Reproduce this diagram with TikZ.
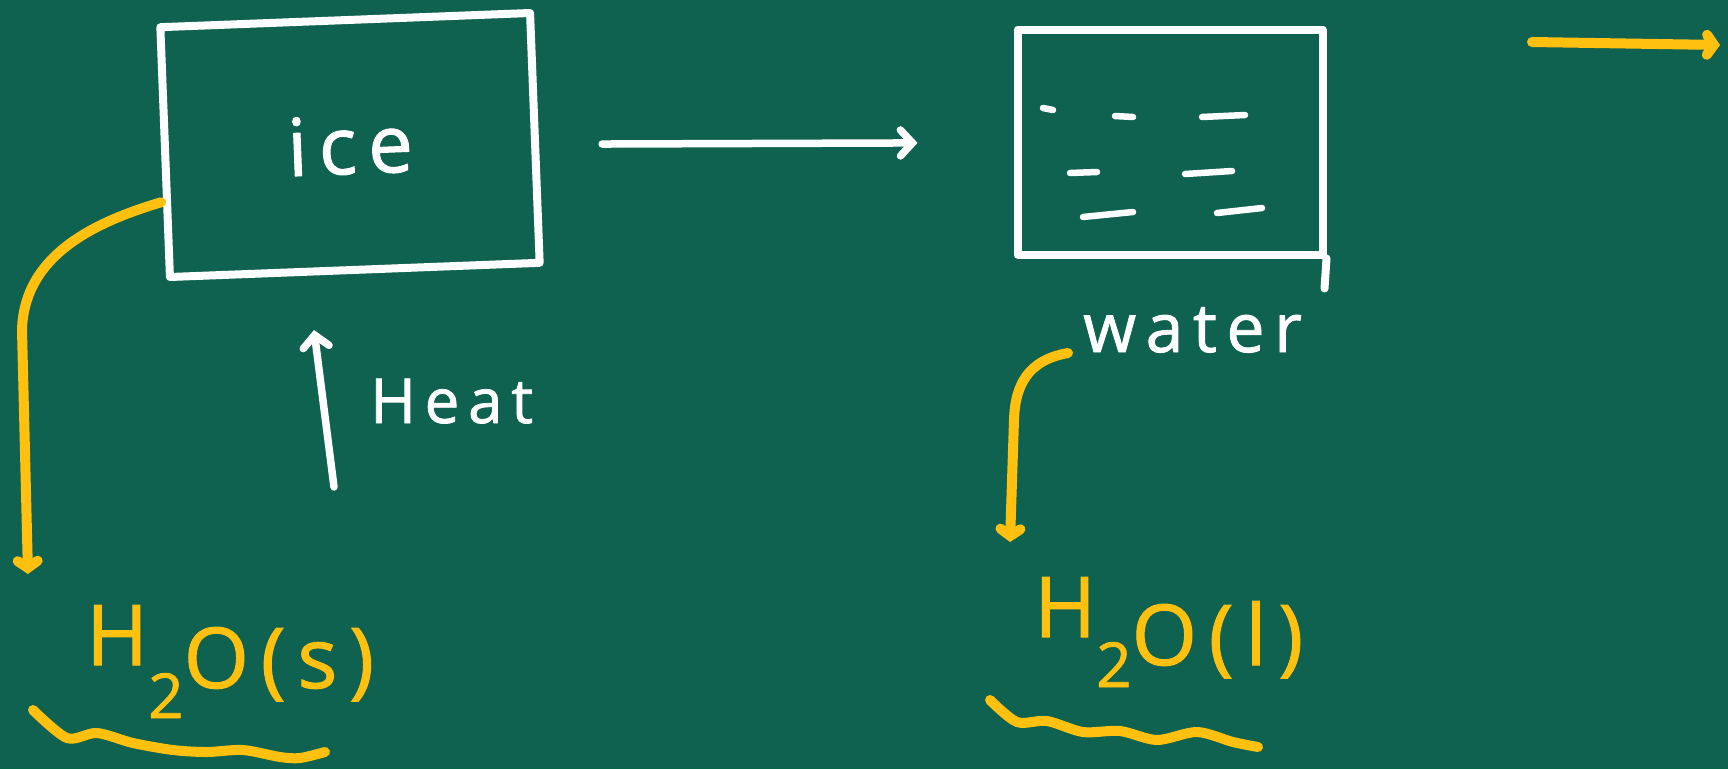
\documentclass[tikz,border=0pt]{standalone}
\usepackage{fontspec}
\setmainfont{Open Sans}
\newfontfamily\chalk[LetterSpace=14, FakeBold=1.2]{Open Sans}
\usetikzlibrary{arrows,arrows.meta,positioning}
\definecolor{board}{RGB}{15,98,80}
\definecolor{chalkyellow}{RGB}{255,192,15}

\begin{document}
\begin{tikzpicture}[
  x=1pt, y=-1pt,
  box/.style={draw=white, line width=8pt, line join=round, inner sep=0pt, text=white},
  lbl/.style={text=white, font=\chalk\fontsize{62}{68}\selectfont, inner sep=0pt},
  chem/.style={text=chalkyellow, font=\chalk\fontsize{84}{90}\selectfont, inner sep=0pt},
  link/.style={draw=white, line width=7.5pt, line cap=round,
    -{Straight Barb[length=12pt, width=26pt, line cap=round]}},
  ripple/.style={draw=white, line width=6.5pt, line cap=round},
  pointer/.style={draw=chalkyellow, line width=10pt, line cap=round,
    -{Straight Barb[length=7pt, width=20pt, line cap=round]}},
  wave/.style={draw=chalkyellow, line width=10pt, line cap=round}
]
\fill[board] (0,0) rectangle (1728,769);
\useasboundingbox (0,0) rectangle (1728,769);

% the two states
\node[box, minimum width=370pt, minimum height=250pt, rotate=2.2,
      font=\chalk\fontsize{80}{88}\selectfont] (ice) at (350,145) {ice};
\node[box, minimum width=305pt, minimum height=225pt] (water) at (1170,142) {};
\draw[white, line width=8pt, line cap=round] (water.south east) -- ++(-2,30);
\foreach \xa/\ya/\xb/\yb in {-127/-34/-117/-32, -55/-26/-37/-25, 32/-25/75/-27,
    -100/31/-73/30, 15/32/62/29, -87/75/-37/70, 47/71/92/66}
  \draw[ripple] ([shift={(\xa,\ya)}]water.center) -- ([shift={(\xb,\yb)}]water.center);
\node[lbl, anchor=base west, font=\chalk\fontsize{68}{74}\selectfont] (watertext) at (1083,352) {water};

\draw[link, shorten <=63pt, shorten >=96pt] (ice) -- (water);

% heat supplied
\coordinate (heatfoot) at (334,487);
\coordinate (heattop) at (314,330);
\draw[link] (heatfoot) -- (heattop);
\node[lbl, anchor=base west] (heat) at (370,423) {Heat};

% formulas
\node[chem, anchor=base west] (solid) at (86,688)
  {\raisebox{23pt}{H}\raisebox{-30pt}{\fontsize{62}{62}\selectfont 2}O(s)};
\node[chem, anchor=base west] (liquid) at (1034,665)
  {\raisebox{28pt}{H}\raisebox{-22pt}{\fontsize{62}{62}\selectfont 2}O(l)};

\coordinate (solidtip) at (28,574);
\coordinate (liquidtip) at (1010,542);
\draw[pointer] ([yshift=-50pt]ice.west) .. controls (95,222) and (24,255) .. (22,330) -- (solidtip);
\draw[pointer] (1068,353) .. controls (1028,360) and (1015,385) .. (1014,420) -- (liquidtip);

\draw[wave] plot[smooth] coordinates {(33,710) (67,738) (97,733) (133,743) (173,750)
  (207,752) (243,750) (280,757) (300,758) (325,752)};
\draw[wave] plot[smooth] coordinates {(990,700) (1017,722) (1047,721) (1083,732)
  (1120,731) (1157,740) (1197,732) (1233,742) (1258,747)};

% next step
\coordinate (nexttail) at (1532,42);
\coordinate (nexthead) at (1720,45);
\draw[pointer] (nexttail) -- (nexthead);
\end{tikzpicture}
\end{document}
